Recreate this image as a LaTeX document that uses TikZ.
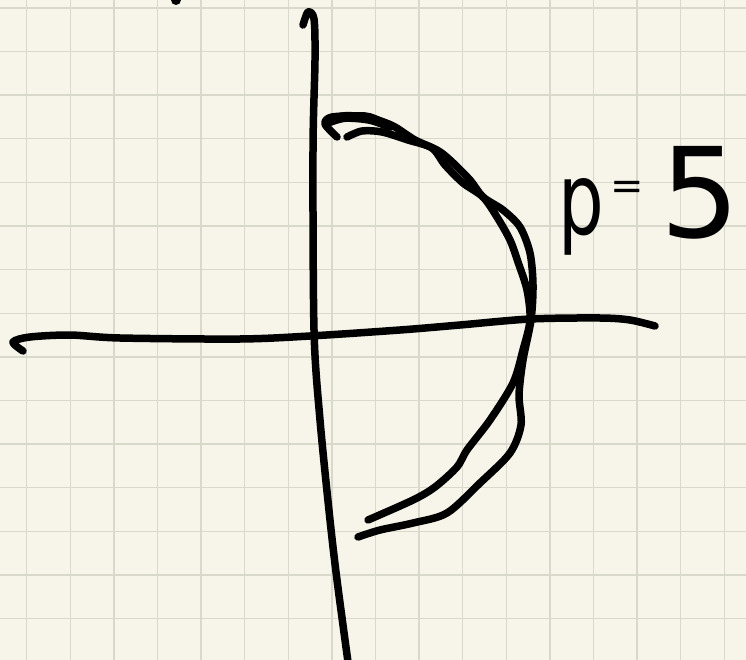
\documentclass[tikz,border=0pt]{standalone}
\usepackage{fontspec}
\newfontfamily\handfont{DejaVu Sans}
\definecolor{paper}{RGB}{247,245,234}
\definecolor{gridc}{RGB}{216,216,203}
\begin{document}
\begin{tikzpicture}[x=1pt,y=-1pt,
  ink/.style={draw=black,line width=7.5pt,line cap=round,line join=round},
  gridline/.style={draw=gridc,line width=1.4pt},
  hand/.style={inner sep=0pt,anchor=base,text=black}]
\useasboundingbox (0,0) rectangle (746,660);
\fill[paper] (0,0) rectangle (746,660);
% grid
\foreach \k in {0,...,16} {\draw[gridline] ({26.7+43.6*\k},0) -- ({26.7+43.6*\k},660);}
\foreach \k in {0,...,14} {\draw[gridline] (0,{8+43.6*\k}) -- (746,{8+43.6*\k});}
% stray dot at top
\fill[black] (176,0) circle (5);
% vertical axis
\draw[ink] plot[smooth,tension=0.5] coordinates {(303,25) (308,12) (314,19) (315,60) (313,150) (314,330) (320,420) (330,520) (337,580) (348,662)};
% horizontal axis
\draw[ink] plot[smooth,tension=0.5] coordinates {(23,351) (13,342) (30,337) (70,335) (120,338) (240,339) (310,336) (400,330) (460,325) (530,319) (600,318) (630,320) (655,326)};
% first arc stroke
\draw[ink] plot[smooth,tension=0.5] coordinates {(337,137) (325,124) (332,117) (365,116) (380,121) (395,127) (415,140) (437,150) (450,160) (470,180) (483,197) (503,210) (520,227) (530,253) (533,285) (531,320) (523,360) (519,395) (521,425) (510,453) (480,483) (447,513) (413,523) (380,530) (358,537)};
% second arc stroke
\draw[ink] plot[smooth,tension=0.5] coordinates {(347,137) (362,131) (382,132) (408,140) (432,148) (445,165) (463,183) (483,197) (497,217) (510,240) (518,262) (527,290) (530,320) (523,350) (513,383) (490,420) (467,450) (457,467) (435,487) (413,500) (368,520)};
% extra thickness at the top where strokes overlap
\draw[ink,line width=10pt] plot[smooth,tension=0.5] coordinates {(327,122) (345,117) (370,119) (390,126)};
% label p=5
\node[hand,xscale=0.72,font=\handfont\fontsize{100}{100}\selectfont] (p) at (581,235) {p};
\node[hand,font=\handfont\fontsize{40}{40}\selectfont] (eq) at (627,200) {=};
\node[hand,font=\handfont\fontsize{125}{125}\selectfont] (five) at (700,237) {5};
\end{tikzpicture}
\end{document}
